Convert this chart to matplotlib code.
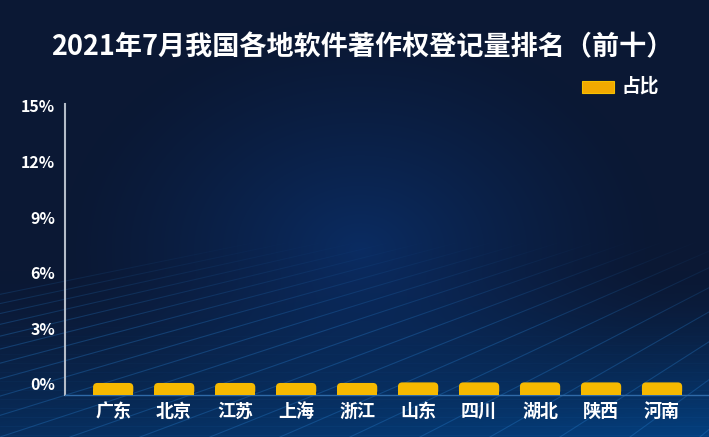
import numpy as np
import matplotlib
matplotlib.use("Agg")
import matplotlib.pyplot as plt
from matplotlib.patches import Rectangle, FancyBboxPatch

plt.rcParams['font.family'] = ['Noto Sans CJK SC', 'DejaVu Sans']

# data
provinces = ["广东", "北京", "江苏", "上海", "浙江", "山东", "四川", "湖北", "陕西", "河南"]
share = [0.05, 0.05, 0.05, 0.05, 0.05, 0.08, 0.08, 0.08, 0.08, 0.08]   # %
yticks = [0, 3, 6, 9, 12, 15]
title = "2021年7月我国各地软件著作权登记量排名（前十）"
legend_label = "占比"

W, H = 709, 437
fig = plt.figure(figsize=(W / 100, H / 100), dpi=100)

# background: dark navy with a soft glow in the middle and a brighter floor
yy, xx = np.mgrid[0:H, 0:W].astype(float)
base = np.array([11, 24, 52]) / 255
glow = np.array([10, 44, 98]) / 255
floor = np.array([4, 64, 128]) / 255
r = np.sqrt(((xx - 360) / 300) ** 2 + ((yy - 250) / 230) ** 2)
g = np.clip(1 - r, 0, 1) ** 1.3
img = base[None, None, :] * (1 - g[..., None]) + glow[None, None, :] * g[..., None]
f = np.clip((yy - 270) / 167, 0, 1) ** 1.5 * (0.55 + 0.45 * xx / W)
img = img * (1 - f[..., None]) + floor[None, None, :] * f[..., None]

bg = fig.add_axes([0, 0, 1, 1], zorder=0)
bg.imshow(img, extent=[0, W, H, 0], aspect="auto")

# perspective grid lines on the floor
vx, vy = 1150, 60
for x0 in np.arange(-700, 800, 70):
    bg.plot([x0, vx], [H, vy], color="#2a86d8", lw=0.8, alpha=0.3)
for yl in np.arange(300, H, 9):
    bg.axhline(yl, color="#2a76c0", lw=0.5, alpha=0.12 * (yl - 290) / 147)

# fade the lines out towards the top
fade = np.zeros((H, W, 4))
fade[..., :3] = img
fade[..., 3] = np.clip((330 - yy) / 90, 0, 1)
bg.imshow(fade, extent=[0, W, H, 0], aspect="auto", zorder=3)
bg.set_xlim(0, W)
bg.set_ylim(H, 0)
bg.axis("off")

# chart
ax = fig.add_axes([65 / W, (H - 395) / H, (W - 65) / W, (395 - 104) / H], zorder=1)
ax.patch.set_alpha(0)
ymin = -0.6
x = np.arange(len(provinces))
ax.set_xlim(-0.79, 9.77)
ax.set_ylim(ymin, 15.1)
bars = ax.bar(x, np.array(share) - ymin, bottom=ymin, width=0.66, color="none")

# rounded top corners
asp = (15.7 / 291) / (10.56 / 644)
for b in bars:
    bx, by, bw, bh = b.get_x(), b.get_y(), b.get_width(), b.get_height()
    ax.add_patch(FancyBboxPatch((bx, by), bw, bh, boxstyle="round,pad=0,rounding_size=0.07",
                                mutation_aspect=asp, facecolor="#f6b900", edgecolor="none", zorder=3))
    ax.add_patch(Rectangle((bx, by), bw, bh / 2, facecolor="#f6b900", edgecolor="none", zorder=3))

ax.set_yticks(yticks)
ax.set_yticklabels([f"{v}%" for v in yticks], color="white", fontsize=11.5, fontweight="bold")
ax.set_xticks(x)
ax.set_xticklabels(provinces, color="white", fontsize=13, fontweight="bold")
ax.tick_params(axis="both", length=0)
ax.tick_params(axis="y", pad=7)
ax.tick_params(axis="x", pad=5)
for s in ["top", "right"]:
    ax.spines[s].set_visible(False)
ax.spines["left"].set_color("#b4bcc8")
ax.spines["left"].set_linewidth(1.5)
ax.spines["bottom"].set_color("#2f6aa8")
ax.spines["bottom"].set_linewidth(1)

fig.text(362 / W, 1 - 47 / H, title, color="white", fontsize=19.5, fontweight="bold",
         ha="center", va="center")

# legend
fig.patches.append(Rectangle((582 / W, 1 - 93 / H), 32 / W, 12 / H, transform=fig.transFigure,
                             facecolor="#f2a900", edgecolor="#f7c000", lw=0.8))
fig.text(622 / W, 1 - 86 / H, legend_label, color="white", fontsize=13.5, fontweight="bold",
         ha="left", va="center")

fig.savefig("out.png", dpi=100)
